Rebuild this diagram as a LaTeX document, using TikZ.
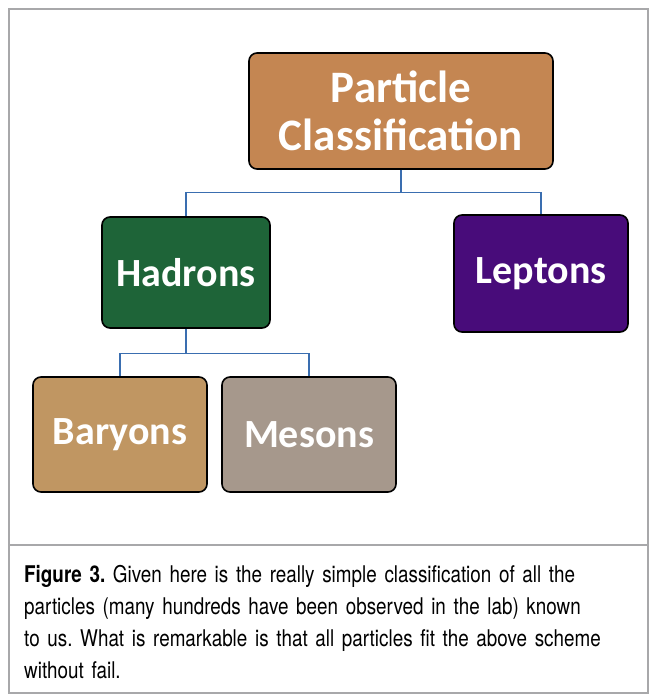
\documentclass[tikz,border=0pt]{standalone}
\usepackage{fontspec}
\newfontfamily\boxfont{Carlito}
\newfontfamily\capfont[FakeStretch=0.82]{TeX Gyre Heros}
\definecolor{FrameGray}{RGB}{168,168,170}
\definecolor{LinkBlue}{RGB}{58,110,176}
\definecolor{CorkBrown}{RGB}{196,134,82}
\definecolor{MarbleGreen}{RGB}{30,100,56}
\definecolor{LeptonPurple}{RGB}{72,12,122}
\definecolor{PaperTan}{RGB}{192,150,98}
\definecolor{SandGray}{RGB}{166,152,140}
\usetikzlibrary{positioning,calc}
\tikzset{
  partbox/.style={draw=black,line width=1.6pt,rounded corners=8pt,text=white,
    align=center,font=\boxfont\bfseries\fontsize{40}{48}\selectfont},
  link/.style={draw=LinkBlue,line width=1.3pt}
}

\begin{document}
\begin{tikzpicture}[x=1pt,y=-1pt]
\useasboundingbox (0,0) rectangle (650,695);
% frame and caption rule
\draw[FrameGray,line width=2.5pt] (9,9) rectangle (648,693);
\draw[FrameGray,line width=2.5pt] (9,545) -- (648,545);
% top
\node[partbox,fill=CorkBrown,minimum width=304pt,minimum height=116pt,
  font=\boxfont\bfseries\fontsize{45}{48}\selectfont] (pc) at (401,111) {Particle\\Classification};
% second row
\node[partbox,fill=MarbleGreen,minimum width=168pt,minimum height=111pt] (had) at (186,272.5) {Hadrons};
\node[partbox,fill=LeptonPurple,minimum width=174pt,minimum height=117pt] (lep) at (541,273.5) {Leptons};
% third row
\node[partbox,fill=PaperTan,minimum width=174pt,minimum height=115pt] (bar) at (120,434.5) {Baryons};
\node[partbox,fill=SandGray,minimum width=174pt,minimum height=115pt] (mes) at (309,434.5) {Mesons};
% connectors
\draw[link] (pc.south) -- ++(0,23) -| (had.north);
\draw[link] (pc.south) -- ++(0,23) -| (lep.north);
\draw[link] (had.south) -- ++(0,25) -| (bar.north);
\draw[link] (had.south) -- ++(0,25) -| (mes.north);
% caption
\node[anchor=north west,inner sep=0pt,text width=615pt,align=left,
  font=\capfont\fontsize{23}{32}\selectfont\frenchspacing] (cap) at (24,565)
  {\textbf{Figure 3.} Given here is the really simple classification of all the\\
   particles (many hundreds have been observed in the lab) known\\
   to us. What is remarkable is that all particles fit the above scheme\\
   without fail.};
\end{tikzpicture}
\end{document}
